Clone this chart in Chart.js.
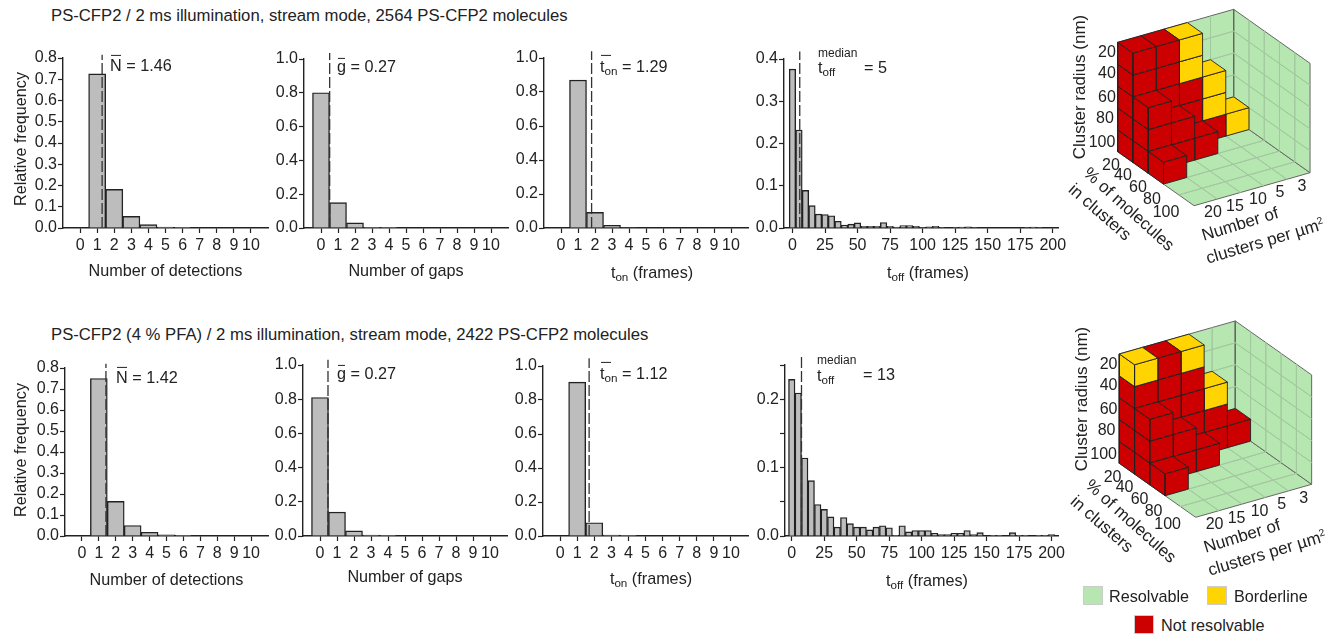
<!DOCTYPE html>
<html>
<head>
<meta charset="utf-8">
<title>PS-CFP2 blinking statistics</title>
<script src="https://cdn.jsdelivr.net/npm/chart.js@4"></script>
<style>
  html, body { margin: 0; padding: 0; background: #fff; }
  #page { position: relative; width: 1343px; height: 640px; overflow: hidden; font-family: "Liberation Sans", Arial, sans-serif; color: #222; }
  canvas { position: absolute; }
  .txt { position: absolute; white-space: nowrap; line-height: 1; }
  .txt sub { font-size: 0.72em; vertical-align: -0.3em; line-height: 0; }
  .txt sup { font-size: 0.6em; vertical-align: 0.6em; line-height: 0; }
  .bar { position: relative; display: inline-block; }
  .bar::before { content: ''; position: absolute; left: 1px; right: 1px; top: -2px; border-top: 1px solid #222; }
  .bar.low::before { top: 0; }
  .bar.short::before { right: 6px; top: -3px; }
  .swatch { position: absolute; width: 20px; height: 19px; box-sizing: border-box; border: 1px solid #ccc; }
</style>
</head>
<body>
<div id="page"></div>
<script>
const page = document.getElementById('page');

const countTicks = [0, 1, 2, 3, 4, 5, 6, 7, 8, 9, 10];
const toffTicks = [0, 25, 50, 75, 100, 125, 150, 175, 200];
const toffBins = [0, 5, 10, 15, 20, 25, 30, 35, 40, 45, 50, 55, 60, 65, 70, 75, 80, 85, 90, 95, 100,
  105, 110, 115, 120, 125, 130, 135, 140, 145, 150, 155, 160, 165, 170, 175, 180, 185, 190, 195, 200];

const detectionsA = [0, 0.725, 0.182, 0.055, 0.016, 0.004, 0.001, 0, 0, 0, 0];
const gapsA = [0.80, 0.15, 0.03, 0.004, 0.001, 0, 0, 0, 0, 0, 0];
const tonA = [0, 0.87, 0.092, 0.015, 0.003, 0, 0, 0, 0, 0, 0];
const toffA = [0.376, 0.232, 0.089, 0.053, 0.033, 0.032, 0.029, 0.016, 0.007, 0.009, 0.012, 0.004, 0.004, 0.004,
  0.013, 0.004, 0.002, 0.006, 0.006, 0.004, 0.001, 0.003, 0.004, 0.001, 0, 0.001, 0.002, 0.003, 0.001, 0,
  0, 0, 0, 0, 0, 0, 0.001, 0.002, 0.001, 0, 0];

const detectionsB = [0, 0.75, 0.165, 0.05, 0.018, 0.006, 0.001, 0, 0, 0, 0];
const gapsB = [0.81, 0.14, 0.03, 0.006, 0.001, 0, 0, 0, 0, 0, 0];
const tonB = [0, 0.905, 0.078, 0.005, 0.001, 0, 0, 0, 0, 0, 0];
const toffB = [0.229, 0.209, 0.114, 0.081, 0.046, 0.039, 0.028, 0.013, 0.027, 0.018, 0.013, 0.013, 0.009, 0.013,
  0.015, 0.012, 0.001, 0.015, 0.006, 0.008, 0.008, 0.008, 0.004, 0.002, 0.002, 0.004, 0.004, 0.008, 0.002, 0.005,
  0, 0.001, 0.001, 0, 0.005, 0.001, 0.001, 0, 0.001, 0.001, 0.002];

const freqTicks8 = [0, 0.1, 0.2, 0.3, 0.4, 0.5, 0.6, 0.7, 0.8];
const freqTicks10 = [0, 0.2, 0.4, 0.6, 0.8, 1.0];
const freqTicks4 = [0, 0.1, 0.2, 0.3, 0.4];
const freqTicks25 = [0, 0.05, 0.1, 0.15, 0.2, 0.25];

// r = not resolvable, y = borderline; each string goes from the floor upwards
const stacksA = [
  ['rrrrr', 'rrrrr', 'rrryy', 'ryy', 'y'],
  ['rrr', 'rr', 'r', '', ''],
  ['r', '', '', '', ''],
];
const stacksB = [
  ['rrrry', 'rrrrr', 'rrrry', 'rry', 'r'],
  ['rrr', 'rr', 'r', '', ''],
  ['r', '', '', '', ''],
];

const INK = '#222';
const BAR_FILL = '#bdbdbd';
const RED = '#cc0000';
const YELLOW = '#ffd400';
const GREEN = '#b7e7b1';
const font = { family: '"Liberation Sans", Arial, sans-serif', size: 16 };

function addText(html, x, y, opts = {}) {
  const el = document.createElement('div');
  el.className = 'txt';
  el.innerHTML = html;
  const size = opts.size || 16.2;
  el.style.fontSize = size + 'px';
  el.style.left = x + 'px';
  el.style.top = y + 'px';
  const ax = opts.center ? '-50%' : '0';
  el.style.transform = `translate(${ax}, -50%) rotate(${opts.rot || 0}deg)`;
  page.appendChild(el);
}

function makeHistogram(p) {
  const pad = 60;
  const canvas = document.createElement('canvas');
  const w = p.right - p.left + pad + 14;
  const h = p.bottom - p.top + 15 + 62;
  canvas.width = w;
  canvas.height = h;
  canvas.style.left = p.left - pad + 'px';
  canvas.style.top = p.top - 15 + 'px';
  page.appendChild(canvas);

  new Chart(canvas, {
    type: 'bar',
    data: {
      datasets: [
        {
          type: 'line',
          data: [{ x: p.mean, y: 0 }, { x: p.mean, y: p.meanTop }],
          borderColor: '#333',
          borderWidth: 1.3,
          borderDash: [11, 3],
          pointRadius: 0,
          clip: false,
          order: 0,
        },
        {
          data: p.values.map((y, i) => ({ x: p.bins[i], y })),
          backgroundColor: BAR_FILL,
          borderColor: INK,
          borderWidth: 1.4,
          categoryPercentage: 1,
          barPercentage: 1,
          order: 1,
        },
      ],
    },
    options: {
      responsive: false,
      animation: false,
      layout: { padding: { top: 15, right: 14, left: 0, bottom: 0 } },
      plugins: { legend: { display: false }, tooltip: { enabled: false } },
      scales: {
        x: {
          type: 'linear',
          offset: false,
          min: p.xMin,
          max: p.xMax,
          afterBuildTicks: (axis) => { axis.ticks = p.xTicks.map((value) => ({ value })); },
          afterFit: (axis) => { axis.height = 62; },
          grid: { offset: false, drawOnChartArea: false, tickLength: 5, tickColor: INK, tickWidth: 1.2 },
          border: { color: INK, width: 1.4 },
          ticks: { autoSkip: false, maxRotation: 0, padding: 3, color: INK, font, callback: (v) => v },
          title: { display: !!p.xTitle, text: p.xTitle, color: INK, font: { ...font, size: 16.2 }, padding: { top: 0, bottom: p.xTitlePad } },
        },
        y: {
          min: 0,
          max: p.yMax,
          afterBuildTicks: (axis) => { axis.ticks = p.yTicks.map((value) => ({ value })); },
          afterFit: (axis) => { axis.width = pad; },
          grid: { drawOnChartArea: false, tickLength: 5, tickColor: INK, tickWidth: 1.2 },
          border: { color: INK, width: 1.4 },
          ticks: {
            autoSkip: false,
            padding: 1,
            color: INK,
            font,
            callback: (v) => (Math.round(v * 100) % 10 === 0 ? v.toFixed(1) : ''),
          },
        },
      },
    },
  });
}

const panels = [
  { left: 63, right: 268, top: 58, bottom: 228, xMin: -1, xMax: 11, yMax: 0.8, bins: countTicks, xTicks: countTicks, yTicks: freqTicks8, values: detectionsA, mean: 1.29, meanTop: 0.815, xTitle: 'Number of detections', xTitlePad: 8.5 },
  { left: 304, right: 508, top: 59, bottom: 228, xMin: -1, xMax: 11, yMax: 1, bins: countTicks, xTicks: countTicks, yTicks: freqTicks10, values: gapsA, mean: 0.51, meanTop: 1.035, xTitle: 'Number of gaps', xTitlePad: 8.5 },
  { left: 544, right: 748, top: 58, bottom: 228, xMin: -1, xMax: 11, yMax: 1, bins: countTicks, xTicks: countTicks, yTicks: freqTicks10, values: tonA, mean: 1.8, meanTop: 1.04 },
  { left: 784, right: 1058, top: 59, bottom: 228, xMin: -6.5, xMax: 204, yMax: 0.4, bins: toffBins, xTicks: toffTicks, yTicks: freqTicks4, values: toffA, mean: 5.6, meanTop: 0.418 },
  { left: 65, right: 268, top: 368, bottom: 536, xMin: -1, xMax: 11, yMax: 0.8, bins: countTicks, xTicks: countTicks, yTicks: freqTicks8, values: detectionsB, mean: 1.42, meanTop: 0.82, xTitle: 'Number of detections', xTitlePad: 7.5 },
  { left: 303, right: 507, top: 365, bottom: 536, xMin: -1, xMax: 11, yMax: 1, bins: countTicks, xTicks: countTicks, yTicks: freqTicks10, values: gapsB, mean: 0.47, meanTop: 1.03, xTitle: 'Number of gaps', xTitlePad: 10.5 },
  { left: 543, right: 748, top: 366, bottom: 536, xMin: -1, xMax: 11, yMax: 1, bins: countTicks, xTicks: countTicks, yTicks: freqTicks10, values: tonB, mean: 1.7, meanTop: 1.045 },
  { left: 785, right: 1058, top: 365, bottom: 536, xMin: -5.2, xMax: 205, yMax: 0.25, bins: toffBins, xTicks: toffTicks, yTicks: freqTicks25, values: toffB, mean: 7.5, meanTop: 0.264 },
];
panels.forEach(makeHistogram);

// 3D class maps: u = clusters per um2, v = % of molecules, w = height above the floor
function makeBlocks(left, top, ox, oy, stacks) {
  const canvas = document.createElement('canvas');
  const W = 293;
  const H = 240;
  canvas.width = W;
  canvas.height = H;
  canvas.style.left = left + 'px';
  canvas.style.top = top + 'px';
  page.appendChild(canvas);

  const project = (u, v, w) => ({
    x: ox + u * 23.2 + v * 15.27,
    y: oy - u * 6.6 + v * 10.8 - w * 21.87,
  });
  const poly = (corners, fillColor, stroke, width) => ({
    data: corners.concat([corners[0]]).map((c) => project(c[0], c[1], c[2])),
    fill: fillColor ? 'shape' : false,
    backgroundColor: fillColor || 'transparent',
    borderColor: stroke,
    borderWidth: width,
    pointRadius: 0,
    tension: 0,
  });

  const layers = [];
  const wallEdge = '#666';
  const wallGrid = '#a3c8a0';
  layers.push(poly([[0, 0, 0], [5, 0, 0], [5, 5, 0], [0, 5, 0]], GREEN, wallEdge, 1));
  layers.push(poly([[0, 0, 0], [5, 0, 0], [5, 0, 5], [0, 0, 5]], GREEN, wallEdge, 1));
  layers.push(poly([[5, 0, 0], [5, 5, 0], [5, 5, 5], [5, 0, 5]], GREEN, wallEdge, 1));
  for (let n = 1; n < 5; n++) {
    layers.push(poly([[n, 0, 0], [n, 5, 0]], null, wallGrid, 1));
    layers.push(poly([[0, n, 0], [5, n, 0]], null, wallGrid, 1));
    layers.push(poly([[n, 0, 0], [n, 0, 5]], null, wallGrid, 1));
    layers.push(poly([[0, 0, n], [5, 0, n]], null, wallGrid, 1));
    layers.push(poly([[5, n, 0], [5, n, 5]], null, wallGrid, 1));
    layers.push(poly([[5, 0, n], [5, 5, n]], null, wallGrid, 1));
  }

  stacks.forEach((row, j) => {
    for (let i = row.length - 1; i >= 0; i--) {
      [...row[i]].forEach((cls, k) => {
        const color = cls === 'y' ? YELLOW : RED;
        const a = i + 1;
        const b = j + 1;
        const c = k + 1;
        layers.push(poly([[i, j, k], [i, b, k], [i, b, c], [i, j, c]], color, '#222', 0.9));
        layers.push(poly([[i, b, k], [a, b, k], [a, b, c], [i, b, c]], color, '#222', 0.9));
        layers.push(poly([[i, j, c], [a, j, c], [a, b, c], [i, b, c]], color, '#222', 0.9));
      });
    }
  });

  new Chart(canvas, {
    type: 'line',
    data: { datasets: layers.reverse() },
    options: {
      responsive: false,
      animation: false,
      layout: { padding: 0 },
      plugins: { legend: { display: false }, tooltip: { enabled: false } },
      scales: {
        x: { type: 'linear', display: false, min: 0, max: W },
        y: { type: 'linear', display: false, min: 0, max: H, reverse: true },
      },
    },
  });

  const dx = left + ox - 67.7;
  const dy = top + oy - 151.7;
  const c = { center: true, size: 16 };
  const radiusLabels = ['20', '40', '60', '80', '100'];
  const radiusPos = [[57, 52], [57, 73], [57, 97], [55, 118], [52, 142]];
  radiusLabels.forEach((t, n) => addText(t, dx + radiusPos[n][0], dy + radiusPos[n][1], c));
  const percentPos = [[61, 165], [73, 175], [88, 187], [102, 199], [116, 212]];
  radiusLabels.forEach((t, n) => addText(t, dx + percentPos[n][0], dy + percentPos[n][1], c));
  const clusterLabels = ['20', '15', '10', '5', '3'];
  const clusterPos = [[163, 212], [185, 206], [208, 199], [230, 192], [252, 186]];
  clusterLabels.forEach((t, n) => addText(t, dx + clusterPos[n][0], dy + clusterPos[n][1], c));
  addText('Cluster radius (nm)', dx + 29, dy + 87, { center: true, rot: -90, size: 17 });
  addText('% of molecules', dx + 79, dy + 209, { center: true, rot: 42, size: 17 });
  addText('in clusters', dx + 50, dy + 212, { center: true, rot: 41, size: 17 });
  addText('Number of', dx + 190, dy + 224, { center: true, rot: -17, size: 17 });
  addText('clusters per µm<sup>2</sup>', dx + 215, dy + 241, { center: true, rot: -16.5, size: 17 });
}

makeBlocks(1050, 0, 67.7, 151.7, stacksA);
makeBlocks(1050, 310, 69.3, 153.3, stacksB);

addText('PS-CFP2 / 2 ms illumination, stream mode, 2564 PS-CFP2 molecules', 51, 16, { size: 16.7 });
addText('PS-CFP2 (4 % PFA) / 2 ms illumination, stream mode, 2422 PS-CFP2 molecules', 51, 335, { size: 16.7 });

addText('Relative frequency', 20, 138.5, { center: true, rot: -90 });
addText('Relative frequency', 20, 450, { center: true, rot: -90 });

addText('<span class="bar">N</span> = 1.46', 110, 65);
addText('<span class="bar low">g</span> = 0.27', 337, 66);
addText('<span class="bar short">t<sub>on</sub></span> = 1.29', 600, 66);
addText('median', 818, 53, { size: 12 });
addText('t<sub>off</sub>', 818, 67);
addText('= 5', 864, 67);

addText('<span class="bar">N</span> = 1.42', 116, 377);
addText('<span class="bar low">g</span> = 0.27', 337, 373);
addText('<span class="bar short">t<sub>on</sub></span> = 1.12', 600, 373);
addText('median', 817, 360, { size: 12 });
addText('t<sub>off</sub>', 817, 375);
addText('= 13', 863, 374);

addText('t<sub>on</sub> (frames)', 652, 272, { center: true });
addText('t<sub>off</sub> (frames)', 928, 272, { center: true });
addText('t<sub>on</sub> (frames)', 651, 578, { center: true });
addText('t<sub>off</sub> (frames)', 927, 580, { center: true });

const legendItems = [
  { label: 'Resolvable', color: GREEN, x: 1083, y: 586, tx: 1109 },
  { label: 'Borderline', color: YELLOW, x: 1207, y: 586, tx: 1234 },
  { label: 'Not resolvable', color: RED, x: 1134, y: 615, tx: 1161 },
];
legendItems.forEach((item) => {
  const sw = document.createElement('div');
  sw.className = 'swatch';
  sw.style.left = item.x + 'px';
  sw.style.top = item.y + 'px';
  sw.style.background = item.color;
  page.appendChild(sw);
  addText(item.label, item.tx, item.y + 10);
});
</script>
</body>
</html>
